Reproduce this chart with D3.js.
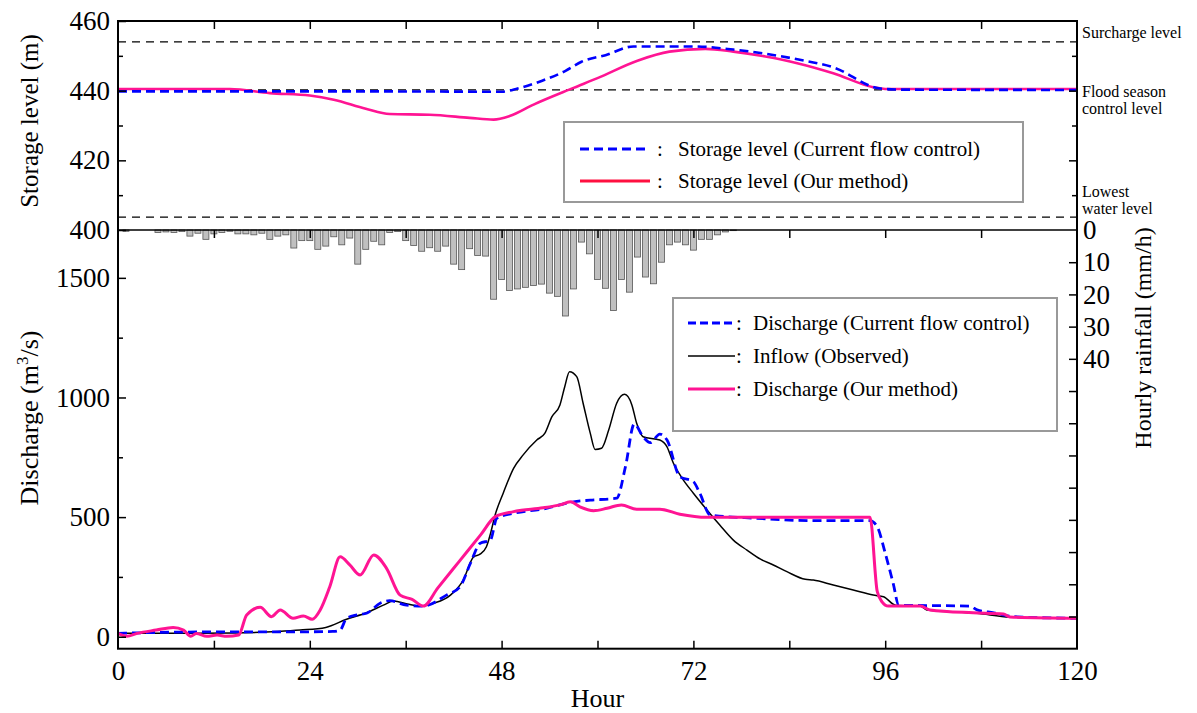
<!DOCTYPE html>
<html>
<head>
<meta charset="utf-8">
<script src="https://cdn.jsdelivr.net/npm/d3@7"></script>
<style>
  body { margin: 0; background: #fff; }
</style>
</head>
<body>
<script>
// Data (hour, value)

const levelTicks = [400, 420, 440, 460];
const dischargeTicks = [0, 500, 1000, 1500];
const rainLabelTicks = [0, 10, 20, 30, 40];
const hourTicks = [0, 24, 48, 72, 96, 120];

// reference water levels (m)
const refLevels = [454, 440.2, 403.7];

// storage level, current flow control
const levelCurrent = [[0,439.8],[30,439.8],[48,439.7],[50,440.6],[53,442.8],[56,445.7],[58,448.3],[61,450.2],[64.5,452.7],[72,452.7],[77,451.8],[85,449],[89.5,446.7],[95.4,440.6],[98,440.3],[120,440.2]];
// storage level, our method
const levelOurs = [[0,440.5],[14,440.5],[19,439.3],[24,438.6],[27,437.4],[31,434.8],[34,433.3],[39,433.1],[44,432.2],[47,431.7],[49,432.7],[52,436],[57,440.8],[60,443.6],[65,448.6],[69,451.2],[73.5,452],[77,451.2],[81,449.8],[85,447.9],[89.5,445],[94.5,441],[96,440.5],[120,440.5]];

// hourly rainfall (mm/h), hour 0..77
const rainfall = [0,0.4,0,0,0,0.8,0.6,0.8,0.5,1.9,1.0,2.9,1.2,0.8,0.4,1.2,1.2,1.5,1.0,2.9,
  1.9,1.5,5.6,3.3,3.3,6.0,5.0,2.1,4.6,2.5,10.6,6.0,3.5,4.6,0.8,0.5,3.3,4.8,6.6,5.5,
  6.6,5.0,10.6,12.3,5.8,7.9,8.1,21.5,15.4,18.8,18.3,17.8,17.2,16.8,19.6,20.6,26.7,18.3,3.75,7.4,
  15.4,18.1,25.0,15.4,19.3,8.4,14.6,16.7,10.0,4.6,3.75,4.6,6.25,2.9,2.9,1.5,0.6,0.2];

// discharge (m3/s)
const inflow = [[0,15],[10,15],[14.4,16],[20,22],[22.8,28],[26,39],[28.6,73],[31.1,100],[33.2,132],[34.5,149],[36.2,137],[37.8,128],[39.5,140],[41.6,174],[43.2,237],[44.5,334],[45.3,345],[46.1,376],[46.6,430],[47.2,510],[48.2,600],[49.5,704],[50.7,760],[52.4,822],[53.4,850],[54.3,920],[55.3,969],[55.9,1045],[56.5,1108],[57.4,1087],[58.2,976],[59.1,850],[59.7,783],[60.5,788],[61.4,864],[62.4,976],[63.4,1013],[64.3,969],[64.9,892],[65.7,836],[67.8,822],[68.7,794],[69.5,725],[70.6,662],[72,600],[73.7,530],[75.3,467],[77,404],[78.7,362],[80.4,324],[82,300],[83.7,272],[86,240],[87,237],[89.5,216],[92,195],[94.5,174],[95.8,167],[97.3,132],[100.4,128],[101.2,112],[107.5,98],[111.6,82],[120,77]];
const dischargeCurrent = [[0,14],[5,18],[12,20],[20,20],[26.9,22],[27.8,28],[28.6,77],[29.9,91],[31.1,98],[32.8,140],[34,151],[36.1,132],[38.2,128],[41.1,174],[42.8,209],[44.1,307],[45.3,390],[46.6,404],[47.4,495],[49.5,516],[53.2,534],[57,564],[59.1,571],[62.4,579],[63.5,711],[64.6,889],[65.7,836],[66.6,811],[67.8,847],[68.7,822],[70.3,669],[72,648],[72.8,600],[74.1,509],[80,495],[87,485],[94.1,485],[95,460],[96,350],[97,223],[97.7,132],[106.6,128],[107.5,112],[109.6,100],[112,84],[120,77]];
const dischargeOurs = [[0,14],[1.1,2],[2.4,14],[4.8,28],[6.9,39],[8.2,28],[9.1,2],[9.8,14],[11.1,2],[12.4,7],[13.6,2],[15.1,7],[16.1,91],[17.8,123],[19.2,84],[20.3,112],[21.9,77],[23.2,87],[24.3,73],[25.3,112],[26.5,209],[27.8,334],[29,300],[30.3,258],[32,342],[33.6,286],[35.3,174],[36.8,156],[38.2,128],[40,203],[42.7,315],[45.4,427],[47.2,502],[49.5,523],[53.2,539],[55.3,551],[56.6,564],[57.8,543],[59.5,527],[61.2,537],[63,551],[64.9,533],[67.8,533],[70.3,512],[73.7,499],[94.1,499],[95,190],[95.6,146],[96.4,128],[100.4,128],[101.6,112],[107,100],[110.8,95],[111.6,82],[120,77]];

const storageLegend = ["Storage level (Current flow control)", "Storage level (Our method)"];
const dischargeLegend = ["Discharge (Current flow control)", "Inflow (Observed)", "Discharge (Our method)"];

// Layout

const W = 1197, H = 713;
const pLeft = 118, pRight = 1077, pTop = 21, pMid = 230, pBottom = 648.7;
const serif = "'Liberation Serif', 'Times New Roman', serif";
const blue = "#0000ff", pink = "#ff1493", legendRed = "#ff1040";

const svg = d3.select("body").append("svg")
  .attr("width", W).attr("height", H)
  .style("font-family", serif);

// scales
const x = d3.scaleLinear().domain([0, 120]).range([pLeft, pRight]);
const yLevel = d3.scaleLinear().domain([400, 460]).range([pMid, pTop]);
const yQ = d3.scaleLinear().domain([-50, 1700]).range([pBottom, pMid]);
const yRain = d3.scaleLinear().domain([0, 130]).range([pMid, pBottom]);

// rainfall bars
svg.append("g").selectAll("rect")
  .data(rainfall.map((v, i) => ({h: i, v: v})).filter(d => d.v > 0))
  .join("rect")
  .attr("x", d => x(d.h) - 3)
  .attr("y", yRain(0))
  .attr("width", 6)
  .attr("height", d => yRain(d.v) - yRain(0))
  .attr("fill", "#c0c0c0")
  .attr("stroke", "#555")
  .attr("stroke-width", 0.8);

// reference level lines
svg.append("g").selectAll("line")
  .data(refLevels)
  .join("line")
  .attr("x1", pLeft).attr("x2", pRight)
  .attr("y1", d => yLevel(d)).attr("y2", d => yLevel(d))
  .attr("stroke", "#000")
  .attr("stroke-width", 1.3)
  .attr("stroke-dasharray", "8,6");

// lines
const levelLine = d3.line().curve(d3.curveMonotoneX).x(d => x(d[0])).y(d => yLevel(d[1]));
const qLine = d3.line().curve(d3.curveMonotoneX).x(d => x(d[0])).y(d => yQ(d[1]));

svg.append("path").datum(levelOurs)
  .attr("fill", "none").attr("stroke", pink).attr("stroke-width", 2.6)
  .attr("d", levelLine);
svg.append("path").datum(levelCurrent)
  .attr("fill", "none").attr("stroke", blue).attr("stroke-width", 2.6)
  .attr("stroke-dasharray", "9,5")
  .attr("d", levelLine);

svg.append("path").datum(inflow)
  .attr("fill", "none").attr("stroke", "#000").attr("stroke-width", 1.5)
  .attr("d", qLine);
svg.append("path").datum(dischargeCurrent)
  .attr("fill", "none").attr("stroke", blue).attr("stroke-width", 2.8)
  .attr("stroke-dasharray", "9,5")
  .attr("d", qLine);
svg.append("path").datum(dischargeOurs)
  .attr("fill", "none").attr("stroke", pink).attr("stroke-width", 3)
  .attr("d", qLine);

// frames
svg.append("rect")
  .attr("x", pLeft).attr("y", pTop)
  .attr("width", pRight - pLeft).attr("height", pBottom - pTop)
  .attr("fill", "none").attr("stroke", "#000").attr("stroke-width", 2);
svg.append("line")
  .attr("x1", pLeft).attr("x2", pRight).attr("y1", pMid).attr("y2", pMid)
  .attr("stroke", "#000").attr("stroke-width", 1.5);

// axes helper
function axisG(axis, tx, ty) {
  const g = svg.append("g")
    .attr("transform", "translate(" + tx + "," + ty + ")")
    .call(axis);
  g.select(".domain").remove();
  g.selectAll("line").attr("stroke", "#000").attr("stroke-width", 1.5);
  g.attr("font-family", serif).attr("font-size", 27);
  g.selectAll("text").attr("fill", "#000");
  return g;
}

const hour12 = d3.range(12, 120, 12);
const plain = d3.format("d");

// top panel: left / right
axisG(d3.axisLeft(yLevel).tickValues([410, 430, 450]).tickSize(-5).tickFormat(""), pLeft, 0);
axisG(d3.axisLeft(yLevel).tickValues(levelTicks).tickSize(-8).tickPadding(8).tickFormat(plain), pLeft, 0);
axisG(d3.axisRight(yLevel).tickValues([410, 430, 450]).tickSize(-5).tickFormat(""), pRight, 0);
axisG(d3.axisRight(yLevel).tickValues([420, 440]).tickSize(-8).tickFormat(""), pRight, 0);
// top panel: top ticks
axisG(d3.axisBottom(x).tickValues(hour12).tickSize(8).tickFormat(""), 0, pTop);
// bottom panel: top ticks
axisG(d3.axisBottom(x).tickValues(hour12).tickSize(8).tickFormat(""), 0, pMid);

// bottom panel: left
axisG(d3.axisLeft(yQ).tickValues([250, 750, 1250]).tickSize(-5).tickFormat(""), pLeft, 0);
axisG(d3.axisLeft(yQ).tickValues(dischargeTicks).tickSize(-8).tickPadding(8).tickFormat(plain), pLeft, 0);
// bottom panel: right (rain)
axisG(d3.axisRight(yRain).tickValues(d3.range(10, 130, 10)).tickSize(-8)
  .tickFormat(d => rainLabelTicks.includes(d) ? plain(d) : "").tickPadding(6), pRight, 0);
axisG(d3.axisRight(yRain).tickValues([0]).tickSize(0).tickPadding(6).tickFormat(plain), pRight, 0);
// bottom x axis
axisG(d3.axisTop(x).tickValues(hour12).tickSize(8).tickFormat(""), 0, pBottom);
axisG(d3.axisBottom(x).tickValues(hourTicks).tickSize(0).tickPadding(12).tickFormat(plain), 0, pBottom);

// axis titles
svg.append("text")
  .attr("transform", "translate(38," + 121 + ") rotate(-90)")
  .attr("text-anchor", "middle").attr("font-size", 25)
  .text("Storage level (m)");

const qTitle = svg.append("text")
  .attr("transform", "translate(38," + 418 + ") rotate(-90)")
  .attr("text-anchor", "middle").attr("font-size", 26);
qTitle.append("tspan").text("Discharge (m");
qTitle.append("tspan").attr("font-size", 17).attr("dy", -10).text("3");
qTitle.append("tspan").attr("dy", 10).text("/s)");

svg.append("text")
  .attr("transform", "translate(1151," + 338 + ") rotate(-90)")
  .attr("text-anchor", "middle").attr("font-size", 24)
  .text("Hourly rainfall (mm/h)");

svg.append("text")
  .attr("x", (pLeft + pRight) / 2).attr("y", 707)
  .attr("text-anchor", "middle").attr("font-size", 26)
  .text("Hour");

// reference level notes
const notes = [["Surcharge level", 38], ["Flood season", 97], ["control level", 114], ["Lowest", 197], ["water level", 214]];
svg.append("g").selectAll("text")
  .data(notes)
  .join("text")
  .attr("x", 1082).attr("y", d => d[1])
  .attr("font-size", 16)
  .text(d => d[0]);

// legend: storage level
const lg1 = svg.append("g");
lg1.append("rect")
  .attr("x", 564).attr("y", 122).attr("width", 459).attr("height", 80)
  .attr("fill", "#fff").attr("stroke", "#999").attr("stroke-width", 2);
storageLegend.forEach((label, i) => {
  const yy = 149 + i * 32;
  lg1.append("line")
    .attr("x1", 580).attr("x2", 650).attr("y1", yy).attr("y2", yy)
    .attr("stroke", i === 0 ? blue : legendRed).attr("stroke-width", 3)
    .attr("stroke-dasharray", i === 0 ? "9,5" : null);
  lg1.append("text").attr("x", 657).attr("y", yy + 7).attr("font-size", 21).text(":");
  lg1.append("text").attr("x", 678).attr("y", yy + 7).attr("font-size", 21).text(label);
});

// legend: discharge
const lg2 = svg.append("g");
lg2.append("rect")
  .attr("x", 673).attr("y", 298).attr("width", 384).attr("height", 133)
  .attr("fill", "#fff").attr("stroke", "#999").attr("stroke-width", 2);
const lgColors = [blue, "#000", pink];
dischargeLegend.forEach((label, i) => {
  const yy = 323 + i * 33;
  lg2.append("line")
    .attr("x1", 688).attr("x2", 735).attr("y1", yy).attr("y2", yy)
    .attr("stroke", lgColors[i]).attr("stroke-width", i === 1 ? 1.5 : 3)
    .attr("stroke-dasharray", i === 0 ? "8,4" : null);
  lg2.append("text").attr("x", 736).attr("y", yy + 7).attr("font-size", 21).text(":");
  lg2.append("text").attr("x", 753).attr("y", yy + 7).attr("font-size", 21).text(label);
});
</script>
</body>
</html>
